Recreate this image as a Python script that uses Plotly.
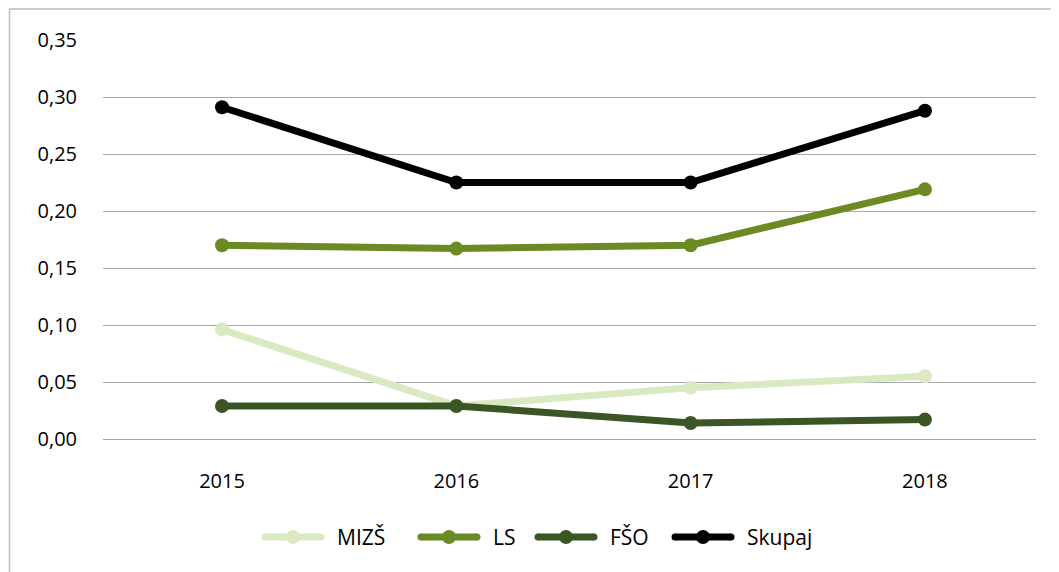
import plotly.graph_objects as go

years = ["2015", "2016", "2017", "2018"]
mizs = [0.096, 0.029, 0.045, 0.055]
ls = [0.170, 0.167, 0.170, 0.219]
fso = [0.029, 0.029, 0.014, 0.017]
skupaj = [0.291, 0.225, 0.225, 0.288]

names = ["MIZŠ", "LS", "FŠO", "Skupaj"]
colors = ["#d9eac3", "#6b8a23", "#3b5525", "#000000"]
series = [mizs, ls, fso, skupaj]

OFF = 8  # default page body margin
W, H = 1059 - OFF, 572 - OFF
L, T = 103 - OFF, 40 - OFF
pw, ph = 933, 399
R = W - L - pw
B = H - T - ph
FONT = "Open Sans, Liberation Sans, sans-serif"

fig = go.Figure()
for n, c, s in zip(names, colors, series):
    fig.add_trace(go.Scatter(
        x=years, y=s, name=n, mode="lines+markers",
        line=dict(color=c, width=7),
        marker=dict(color=c, size=14),
        showlegend=False,
    ))

def px_x(p):
    return (p - OFF - L) / pw

def px_y(p):
    return (T + ph - (p - OFF)) / ph

# outer chart frame
fig.add_shape(type="rect", xref="paper", yref="paper",
              x0=px_x(9.5), x1=px_x(1075), y0=px_y(590), y1=px_y(9),
              line=dict(color="#bdbdbd", width=1.5), fillcolor="rgba(0,0,0,0)")

# legend (drawn with long line keys as in the reference)
leg_x = [262, 418, 535, 672]
leg_y = 537
key_len = 62
for n, c, x in zip(names, colors, leg_x):
    fig.add_shape(type="line", xref="paper", yref="paper",
                  x0=px_x(x + 3), x1=px_x(x + key_len - 3), y0=px_y(leg_y), y1=px_y(leg_y),
                  line=dict(color=c, width=7))
    for ex in (x + 3, x + key_len - 3):
        fig.add_shape(type="circle", xref="paper", yref="paper",
                      xsizemode="pixel", ysizemode="pixel",
                      xanchor=px_x(ex), yanchor=px_y(leg_y),
                      x0=-3.5, x1=3.5, y0=-3.5, y1=3.5,
                      line=dict(width=0), fillcolor=c)
    cx = x + key_len / 2
    fig.add_shape(type="circle", xref="paper", yref="paper",
                  xsizemode="pixel", ysizemode="pixel",
                  xanchor=px_x(cx), yanchor=px_y(leg_y),
                  x0=-7, x1=7, y0=-7, y1=7,
                  line=dict(width=0), fillcolor=c)
    fig.add_annotation(xref="paper", yref="paper", x=px_x(x + key_len + 11), y=px_y(leg_y),
                       text=n, showarrow=False, xanchor="left", yanchor="middle",
                       font=dict(family=FONT, size=21, color="#000000"))

fig.update_layout(
    width=W, height=H,
    margin=dict(l=L, r=R, t=T, b=B),
    paper_bgcolor="white", plot_bgcolor="white",
    separators=", ",
    font=dict(family=FONT, size=20, color="#000000"),
    showlegend=False,
    xaxis=dict(showgrid=False, showline=False, zeroline=False, ticks="",
               ticklabelstandoff=28, range=[-0.508, 3.474], tickfont=dict(size=20)),
    yaxis=dict(range=[0, 0.35], dtick=0.05, tickformat=".2f", showgrid=True,
               gridcolor="#a6a6a6", gridwidth=1, zeroline=True, zerolinecolor="#a6a6a6",
               zerolinewidth=1, showline=False, ticks="", ticklabelstandoff=25,
               tickfont=dict(size=20)),
)

fig.write_html("out.html")
